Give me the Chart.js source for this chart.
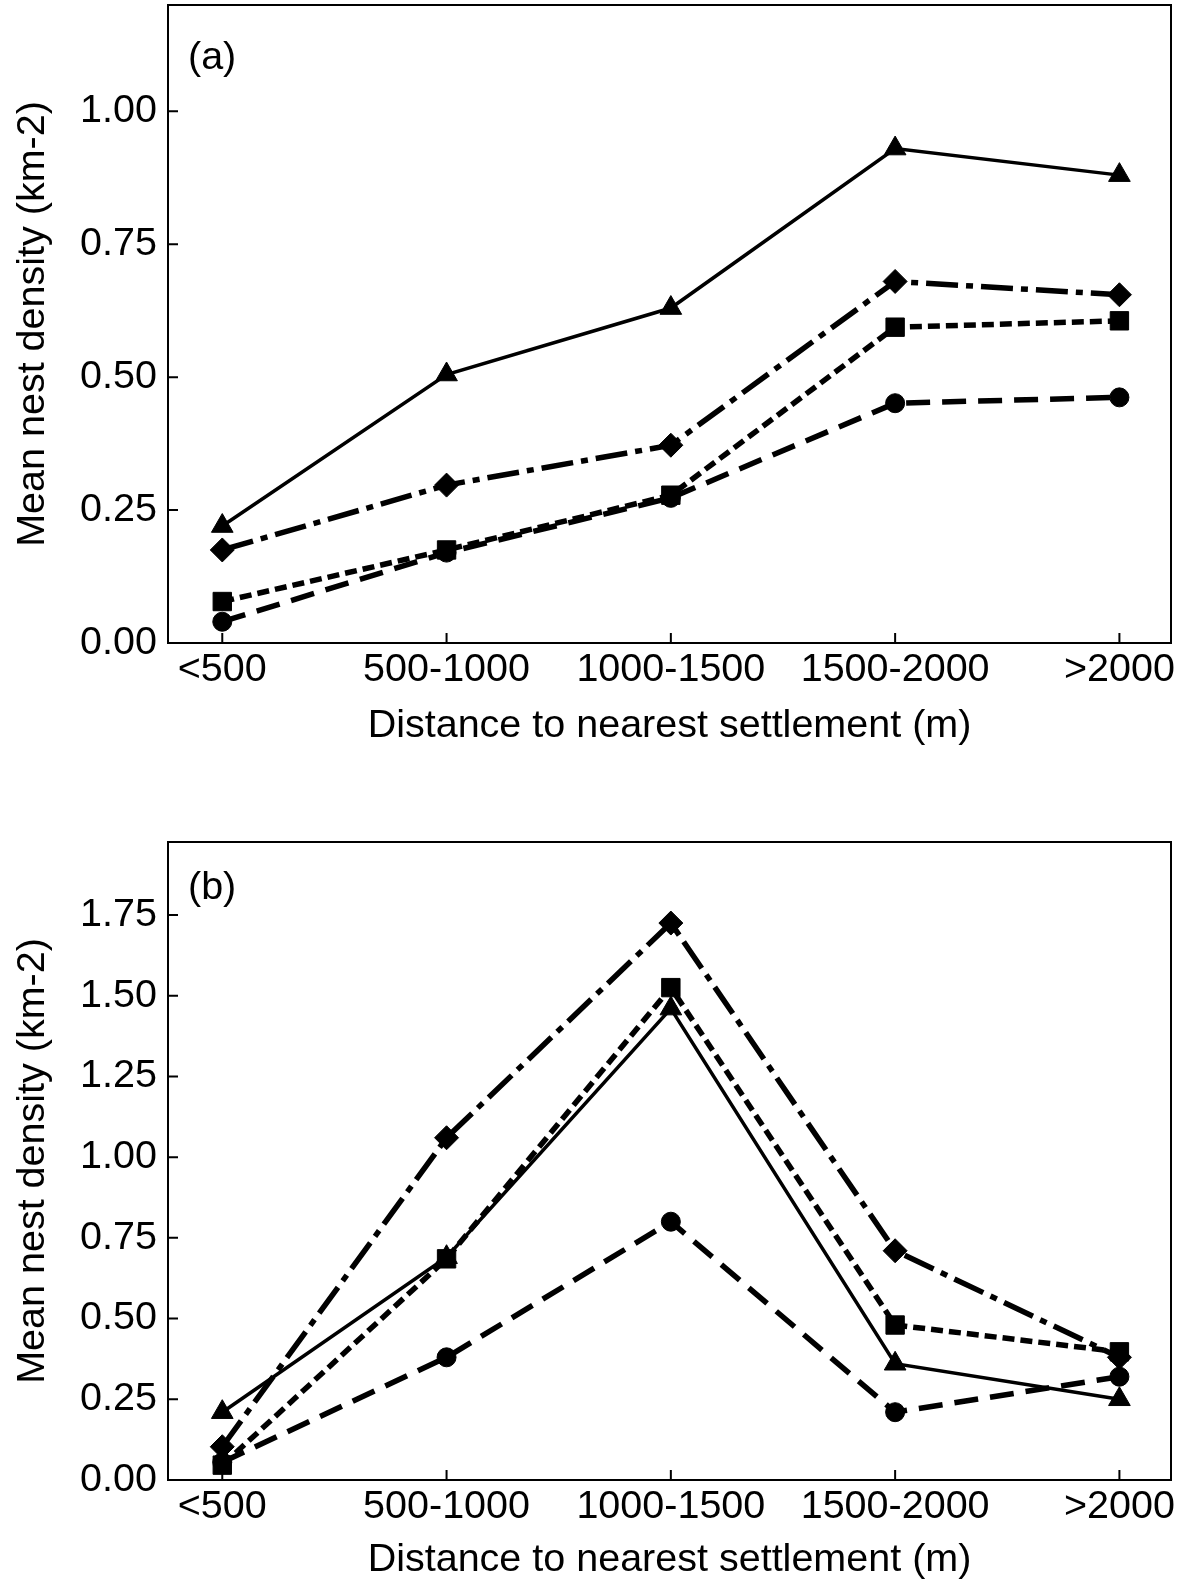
<!DOCTYPE html>
<html>
<head>
<meta charset="utf-8">
<script src="https://cdn.jsdelivr.net/npm/chart.js@4.4.1/dist/chart.umd.min.js"></script>
<style>
  body { margin: 0; background: #fff; }
  #wrap { position: relative; width: 1187px; height: 1585px; }
  canvas { position: absolute; left: 0; }
</style>
</head>
<body>
<div id="wrap">
  <canvas id="chart-a" width="1187" height="790" style="top:0"></canvas>
  <canvas id="chart-b" width="1187" height="795" style="top:790px"></canvas>
</div>
<script>
// Dados
const categories = ['<500', '500-1000', '1000-1500', '1500-2000', '>2000'];
const yTicksA = [0, 0.25, 0.5, 0.75, 1.0];
const yTicksB = [0, 0.25, 0.5, 0.75, 1.0, 1.25, 1.5, 1.75];

// painel (a)
const triangleA = [0.22, 0.505, 0.63, 0.93, 0.88];
const diamondA = [0.175, 0.297, 0.372, 0.68, 0.655];
const squareA = [0.078, 0.175, 0.278, 0.594, 0.606];
const circleA = [0.04, 0.17, 0.273, 0.451, 0.462];

// painel (b)
const triangleB = [0.21, 0.69, 1.46, 0.36, 0.25];
const diamondB = [0.103, 1.06, 1.725, 0.71, 0.38];
const squareB = [0.046, 0.685, 1.525, 0.48, 0.397];
const circleB = [0.055, 0.38, 0.80, 0.21, 0.32];

const FONT = 39.5;
const HALF_LH = FONT * 1.2 / 2;
Chart.defaults.font.family = '"Liberation Sans", Arial, sans-serif';
Chart.defaults.font.size = FONT;
Chart.defaults.color = '#000';

const toPoints = arr => arr.map((v, i) => ({ x: i + 1, y: v }));

function makeDatasets(tri, dia, sq, circ) {
  const base = {
    borderColor: '#000',
    backgroundColor: '#000',
    pointBackgroundColor: '#000',
    pointBorderColor: '#000',
    pointBorderWidth: 1,
    tension: 0,
    borderCapStyle: 'butt',
    clip: false
  };
  return [
    { ...base, label: 'tri', data: toPoints(tri), borderWidth: 3.5, pointStyle: 'triangle', pointRadius: 12.5 },
    { ...base, label: 'dia', data: toPoints(dia), borderWidth: 5.5, borderDash: [32, 8, 7, 8], pointStyle: 'rectRot', pointRadius: 12 },
    { ...base, label: 'sq', data: toPoints(sq), borderWidth: 5.5, borderDash: [12, 6], pointStyle: 'rect', pointRadius: 13 },
    { ...base, label: 'circ', data: toPoints(circ), borderWidth: 5.5, borderDash: [24, 12], pointStyle: 'circle', pointRadius: 9.5 }
  ];
}

// moldura, ticks internos e rótulo do painel
const framePlugin = {
  id: 'frame',
  afterDraw(chart, args, opts) {
    const { ctx, chartArea: a, scales } = chart;
    ctx.save();
    ctx.strokeStyle = '#000';
    ctx.lineWidth = 2;
    ctx.strokeRect(a.left, a.top, a.right - a.left, a.bottom - a.top);
    ctx.beginPath();
    scales.y.ticks.forEach(t => {
      const py = scales.y.getPixelForValue(t.value);
      ctx.moveTo(a.left, py);
      ctx.lineTo(a.left + 10, py);
    });
    scales.x.ticks.forEach(t => {
      const px = scales.x.getPixelForValue(t.value);
      ctx.moveTo(px, a.bottom);
      ctx.lineTo(px, a.bottom - 10);
    });
    ctx.stroke();
    ctx.fillStyle = '#000';
    ctx.font = FONT + 'px "Liberation Sans", Arial, sans-serif';
    ctx.textAlign = 'left';
    ctx.textBaseline = 'middle';
    ctx.fillText(opts.text, a.left + 20, a.top + opts.dy);
    ctx.restore();
  }
};

function makeChart(id, sets, yMax, yTicks, cfg) {
  return new Chart(document.getElementById(id).getContext('2d'), {
    type: 'line',
    data: { datasets: sets },
    plugins: [framePlugin],
    options: {
      responsive: false,
      animation: false,
      devicePixelRatio: 1,
      layout: { autoPadding: false, padding: { top: cfg.top, right: 16, left: 0, bottom: 0 } },
      plugins: {
        legend: { display: false },
        tooltip: { enabled: false },
        frame: { text: cfg.label, dy: cfg.dy }
      },
      scales: {
        x: {
          type: 'linear',
          min: 0.758,
          max: 5.23,
          grid: { display: false, drawTicks: false },
          border: { display: false },
          afterBuildTicks: s => { s.ticks = categories.map((c, i) => ({ value: i + 1 })); },
          afterFit: s => {
            s.height = cfg.xHeight;
            s.paddingLeft = 0; s.paddingRight = 0;
          },
          ticks: {
            autoSkip: false,
            maxRotation: 0,
            padding: 27.5 - HALF_LH,
            callback: v => categories[v - 1]
          },
          title: {
            display: true,
            text: 'Distance to nearest settlement (m)',
            padding: { top: 0, bottom: cfg.titleCenter - HALF_LH }
          }
        },
        y: {
          min: 0,
          max: yMax,
          grid: { display: false, drawTicks: false },
          border: { display: false },
          afterBuildTicks: s => { s.ticks = yTicks.map(v => ({ value: v })); },
          afterFit: s => {
            s.width = 168;
            s.paddingTop = 0; s.paddingBottom = 0;
          },
          ticks: {
            padding: 11,
            callback: v => Number(v).toFixed(2)
          },
          title: {
            display: true,
            text: 'Mean nest density (km-2)',
            padding: { top: 33 - HALF_LH, bottom: 0 }
          }
        }
      }
    }
  });
}

makeChart('chart-a', makeDatasets(triangleA, diamondA, squareA, circleA), 1.2, yTicksA,
  { top: 5, xHeight: 147, titleCenter: 64, label: '(a)', dy: 53 });
makeChart('chart-b', makeDatasets(triangleB, diamondB, squareB, circleB), 1.976, yTicksB,
  { top: 52, xHeight: 105, titleCenter: 25, label: '(b)', dy: 46 });
</script>
</body>
</html>
